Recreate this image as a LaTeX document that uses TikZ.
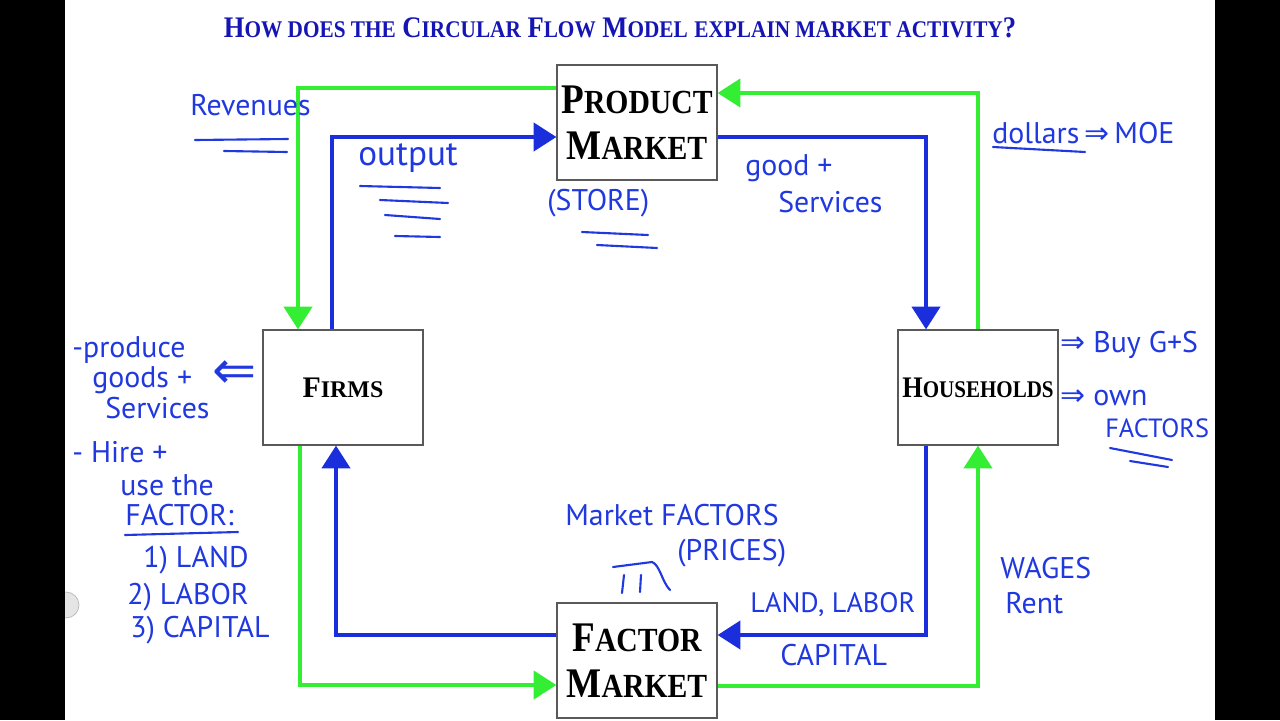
\documentclass[tikz,border=0pt]{standalone}
\usepackage{fontspec}
\setmainfont{Liberation Serif}
\newfontfamily\hand{PT Sans}
\newfontfamily\sym{DejaVu Sans}
\usetikzlibrary{positioning,arrows.meta}
\definecolor{MoneyGreen}{HTML}{33EE33}
\definecolor{FlowBlue}{HTML}{1A2EDC}
\definecolor{InkBlue}{HTML}{2038E0}
\definecolor{TitleBlue}{HTML}{1515B5}
\newcommand\fakesc[2]{#1\scalebox{0.8}{#2}}
\newcommand\squeeze[1]{\scalebox{0.88}[1]{#1}}

\begin{document}
\begin{tikzpicture}[x=0.02cm, y=-0.02cm,
    box/.style={draw=black!65, line width=0.7pt, fill=white, minimum width=3.2cm,
      minimum height=2.3cm, inner sep=0pt, align=center},
    bigbox/.style={box, font=\bfseries\fontsize{24}{26}\selectfont},
    smallbox/.style={box, font=\bfseries\fontsize{17}{20}\selectfont},
    money/.style={-{Triangle[length=13pt,width=16pt]}, line width=2.4pt, draw=MoneyGreen},
    real/.style={-{Triangle[length=13pt,width=16pt]}, line width=2.4pt, draw=FlowBlue},
    note/.style={text=InkBlue, font=\hand\fontsize{17}{19}\selectfont, inner sep=0pt, anchor=west},
    ink/.style={draw=InkBlue, line width=1.2pt, line cap=round}
  ]
    \useasboundingbox (0,0) rectangle (1280,720);
    \fill[white] (0,0) rectangle (1280,720);
    \fill[gray!20, draw=gray!55] (66,605) circle (0.26cm);
    \fill[black] (0,0) rectangle (65,720);
    \fill[black] (1215,0) rectangle (1280,720);

    \node[text=TitleBlue, font=\bfseries\fontsize{17}{20}\selectfont] (title) at (620,28)
      {\scalebox{0.89}[1]{\fakesc{H}{OW DOES THE} \fakesc{C}{IRCULAR} \fakesc{F}{LOW} \fakesc{M}{ODEL}
       \scalebox{0.8}{EXPLAIN MARKET ACTIVITY}?}};

    \node[bigbox] (pm) at (637,122.5) {\squeeze{\fakesc{P}{RODUCT}}\\\squeeze{\fakesc{M}{ARKET}}};
    \node[smallbox] (firms) at (343,387.5) {\fakesc{F}{IRMS}};
    \node[smallbox] (hh) at (978,387.5) {\squeeze{\fakesc{H}{OUSEHOLDS}}};
    \node[bigbox] (fm) at (637,660.5) {\squeeze{\fakesc{F}{ACTOR}}\\\squeeze{\fakesc{M}{ARKET}}};

    % money flows
    \draw[money] (pm.west |- 0,88) -| (firms.north -| 298,0);
    \draw[money] (firms.south -| 300,0) |- (fm.west |- 0,685);
    \draw[money] (fm.east |- 0,686) -| (hh.south -| 978,0);
    \draw[money] (hh.north -| 978,0) |- (pm.east |- 0,93);
    % goods and factors
    \draw[real] (firms.north -| 332,0) |- (pm.west |- 0,137);
    \draw[real] (pm.east |- 0,137) -| (hh.north -| 926,0);
    \draw[real] (hh.south -| 926,0) |- (fm.east |- 0,635);
    \draw[real] (fm.west |- 0,635) -| (firms.south -| 336,0);

    % notes
    \node[note] (rev) at (190,105) {Revenues};
    \draw[ink] (195,140) -- (288,139);
    \draw[ink] (224,151) -- (287,152);
    \node[note, font=\hand\fontsize{20}{22}\selectfont] (outp) at (358,158) {output};
    \draw[ink] (360,186) -- (440,188);
    \draw[ink] (380,200) -- (448,203);
    \draw[ink] (385,215) -- (440,219);
    \draw[ink] (395,236) -- (440,237);
    \node[note] (store) at (547,203) {(STORE)};
    \draw[ink] (582,232) -- (648,235);
    \draw[ink] (597,245) -- (657,248);
    \node[note] (gs1) at (745,168) {good +};
    \node[note] (gs2) at (778,202) {Services};
    \node[note] (moe) at (992,133) {dollars\,{\sym ⇒}\,MOE};
    \draw[ink] (993,147) -- (1085,152);
    \node[note] (buy) at (1060,345) {{\sym ⇒} Buy G+S};
    \node[note] (own1) at (1060,398) {{\sym ⇒} own};
    \node[note, font=\hand\fontsize{15}{17}\selectfont] (own2) at (1105,428) {FACTORS};
    \draw[ink] (1110,448) -- (1172,460);
    \draw[ink] (1130,461) -- (1168,467);
    \node[note, font=\sym\fontsize{30}{32}\selectfont] (back) at (212,375) {⇐};
    \node[note] (prod1) at (72,350) {-produce};
    \node[note] (prod2) at (92,380) {goods +};
    \node[note] (prod3) at (105,408) {Services};
    \node[note] (hire1) at (72,452) {- Hire +};
    \node[note] (hire2) at (120,485) {use the};
    \node[note] (hire3) at (125,515) {FACTOR:};
    \draw[ink] (125,535) -- (238,532);
    \node[note] (land) at (143,560) {1) LAND};
    \node[note] (labor) at (127,597) {2) LABOR};
    \node[note] (capital) at (130,630) {3) CAPITAL};
    \node[note] (mkt1) at (565,515) {Market FACTORS};
    \node[note] (mkt2) at (677,553) {(PRICES)};
    \draw[ink] (613,567) -- (652,562) .. controls (660,565) and (662,582) .. (670,590);
    \draw[ink] (624,575) -- (622,593);
    \draw[ink] (641,575) -- (640,592);
    \node[note, font=\hand\fontsize{16}{18}\selectfont] (ll) at (750,605) {LAND, LABOR};
    \node[note] (capl) at (780,655) {CAPITAL};
    \node[note] (wages) at (1000,568) {WAGES};
    \node[note] (rent) at (1005,603) {Rent};
  \end{tikzpicture}
\end{document}
